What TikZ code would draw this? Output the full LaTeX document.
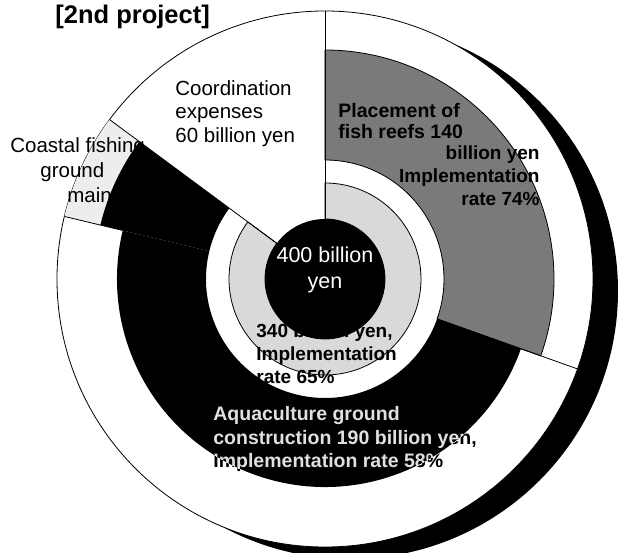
\documentclass[tikz,border=0pt]{standalone}
\usepackage{fontspec}
\setmainfont{Liberation Sans}
\usepackage{tikz}

\begin{document}
\begin{tikzpicture}[
    x=1pt, y=1pt,
    line width=0.8pt,
    every node/.style={inner sep=0pt},
    lbl/.style={font=\fontsize{20.5}{23.5}\selectfont, align=left},
    boldlbl/.style={font=\fontsize{19}{23}\selectfont\bfseries, align=left}
]
\useasboundingbox (-325,-274) rectangle (294,279);

% Shadow and outer disc
\fill[black] (25,-12) circle (268);
\filldraw[fill=white] (0,0) circle (268);

% Coastal fishing ground: outer strip
\fill[black!7] (143.5:229) arc[start angle=143.5, end angle=166.5, radius=229]
    -- (166.5:268) arc[start angle=166.5, end angle=143.5, radius=268] -- cycle;

% Fish reefs
\filldraw[fill=black!52] (-19.6:119) arc[start angle=-19.6, end angle=90, radius=119]
    -- (90:229) arc[start angle=90, end angle=-19.6, radius=229] -- cycle;

% Aquaculture ground
\fill[black] (166.5:119) arc[start angle=166.5, end angle=340.4, radius=119]
    -- (340.4:208) arc[start angle=340.4, end angle=166.5, radius=208] -- cycle;

% Inner ring: 340 billion yen
\filldraw[fill=black!15] (143.5:60) arc[start angle=143.5, end angle=450, radius=60]
    -- (450:96) arc[start angle=450, end angle=143.5, radius=96] -- cycle;

% Centre
\fill[black] (0,0) circle (60);

% Coastal label, partly under its wedge
\node[lbl, font=\fontsize{20.5}{25}\selectfont, anchor=north west] (coastlbl) at (-315,142)
    {Coastal fishing\\\hspace*{30pt}ground\\\hspace*{57pt}maintenance};
\fill[black] (143.5:119) arc[start angle=143.5, end angle=166.5, radius=119]
    -- (166.5:231) arc[start angle=166.5, end angle=143.5, radius=231] -- cycle;

% Dividers
\draw (90:60) -- (90:268);
\draw (143.5:60) -- (143.5:268);
\draw (166.5:208) -- (166.5:268);
\draw (-19.6:119) -- (-19.6:268);

% Labels
\node[font=\fontsize{25.5}{28}\selectfont\bfseries, anchor=west] (title) at (-270,262) {[2nd project]};
\node[lbl, anchor=north west] (coordlbl) at (-150,199) {Coordination\\expenses\\60 billion yen};
\node[boldlbl, font=\fontsize{19.5}{21}\selectfont\bfseries, anchor=north west] (fishlbl) at (13,176)
    {Placement of\\fish reefs 140};
\node[boldlbl, align=right, anchor=north east] (fishrate) at (215,134)
    {billion yen\\Implementation\\rate 74\%};
\node[lbl, font=\fontsize{21.5}{26}\selectfont, align=center, text=white] (totallbl) at (0,9)
    {400 billion\\yen};
\node[boldlbl, anchor=north west] (innerlbl) at (-69,-44)
    {340 billion yen,\\Implementation\\rate 65\%};

% Aquaculture label: dark on white, light on black
\node[boldlbl, font=\fontsize{19.5}{23.5}\selectfont\bfseries, anchor=north west] (aqualbl) at (-112,-127)
    {Aquaculture ground\\construction 190 billion yen,\\Implementation rate 58\%};
\begin{scope}
\clip (166.5:119) arc[start angle=166.5, end angle=340.4, radius=119]
    -- (340.4:208) arc[start angle=340.4, end angle=166.5, radius=208] -- cycle;
\node[boldlbl, font=\fontsize{19.5}{23.5}\selectfont\bfseries, text=black!12, anchor=north west] (aqualbllight) at (-112,-127)
    {Aquaculture ground\\construction 190 billion yen,\\Implementation rate 58\%};
\end{scope}

\end{tikzpicture}
\end{document}
